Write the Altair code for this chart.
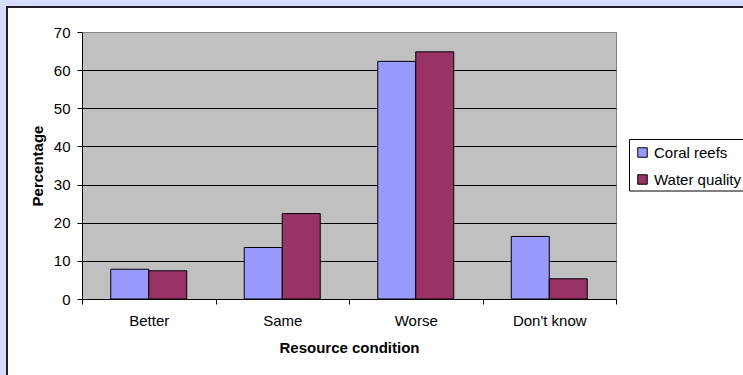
import altair as alt
import pandas as pd

# Survey responses: perceived change in resource condition
categories = ["Better", "Same", "Worse", "Don't know"]
series = ["Coral reefs", "Water quality"]
coral_reefs = [7.8, 13.5, 62.3, 16.4]
water_quality = [7.4, 22.4, 64.8, 5.3]
y_ticks = [0, 10, 20, 30, 40, 50, 60, 70]

colors = ["#9999FF", "#993366"]
FONT = "Liberation Sans"

rows = []
for cat, c, w in zip(categories, coral_reefs, water_quality):
    rows.append({"condition": cat, "series": series[0], "pct": c})
    rows.append({"condition": cat, "series": series[1], "pct": w})
df = pd.DataFrame(rows)

W, H = 534, 267
PAD_L, PAD_T = 82, 32

bars = (
    alt.Chart(df)
    .mark_bar(stroke="black", strokeWidth=1)
    .encode(
        x=alt.X(
            "condition:N",
            sort=categories,
            scale=alt.Scale(paddingInner=0, paddingOuter=0),
            axis=alt.Axis(
                title="Resource condition",
                labelAngle=0,
                tickBand="extent",
                tickSize=5,
                tickColor="black",
                domainColor="black",
                labelPadding=9,
                titlePadding=12,
            ),
        ),
        xOffset=alt.XOffset(
            "series:N",
            sort=series,
            scale=alt.Scale(paddingInner=0, paddingOuter=0.757),
        ),
        y=alt.Y(
            "pct:Q",
            scale=alt.Scale(domain=[0, 70], nice=False),
            axis=alt.Axis(
                title="Percentage",
                values=y_ticks,
                tickSize=5,
                tickColor="black",
                domainColor="black",
                labelPadding=7,
                titlePadding=8,
                grid=True,
                gridColor={"condition": {"test": "datum.value === 70", "value": "#808080"}, "value": "black"},
            ),
        ),
        color=alt.Color(
            "series:N",
            sort=series,
            scale=alt.Scale(domain=series, range=colors),
            legend=alt.Legend(
                title=None,
                orient="none",
                legendX=548,
                legendY=108,
                symbolType="square",
                symbolSize=90,
                symbolStrokeColor="black",
                symbolStrokeWidth=1,
                symbolOpacity=1,
                labelFontSize=15,
                labelFont=FONT,
                labelColor="black",
                labelOffset=4,
                rowPadding=11,
                padding=5,
            ),
        ),
    )
)

one = alt.Data(values=[{}])

# Legend box, running off the right edge of the chart
legend_box = alt.Chart(one).mark_rect(fill="white", stroke="black", strokeWidth=1).encode(
    x=alt.value(547.5), x2=alt.value(720),
    y=alt.value(107.5), y2=alt.value(159),
)

# Surrounding frame: light blue margin and dark border around the chart
frame_left = alt.Chart(one).mark_rect(color="#D4DCFF").encode(
    x=alt.value(-PAD_L), x2=alt.value(-PAD_L + 6),
    y=alt.value(-PAD_T), y2=alt.value(400),
)
frame_top = alt.Chart(one).mark_rect(color="#D4DCFF").encode(
    x=alt.value(-PAD_L), x2=alt.value(700),
    y=alt.value(-PAD_T), y2=alt.value(-PAD_T + 6),
)
frame_border = alt.Chart(one).mark_rect(fill=None, stroke="#1E1E2A", strokeWidth=2).encode(
    x=alt.value(-PAD_L + 7), x2=alt.value(720),
    y=alt.value(-PAD_T + 7), y2=alt.value(420),
)

chart = (
    alt.layer(legend_box, bars, frame_left, frame_top, frame_border)
    .properties(
        width=W,
        height=H,
        background="white",
        padding={"left": PAD_L, "top": PAD_T, "right": 743 - PAD_L - W, "bottom": 375 - PAD_T - H},
        autosize=alt.AutoSizeParams(type="none"),
    )
    .configure_view(fill="#C0C0C0", stroke="#808080", strokeWidth=1)
    .configure_axis(
        labelFont=FONT,
        labelFontSize=15,
        labelColor="black",
        titleFont=FONT,
        titleFontSize=15,
        titleFontWeight="bold",
        titleColor="black",
    )
)

chart.save("out.html", embed_options={"renderer": "svg", "actions": False})
